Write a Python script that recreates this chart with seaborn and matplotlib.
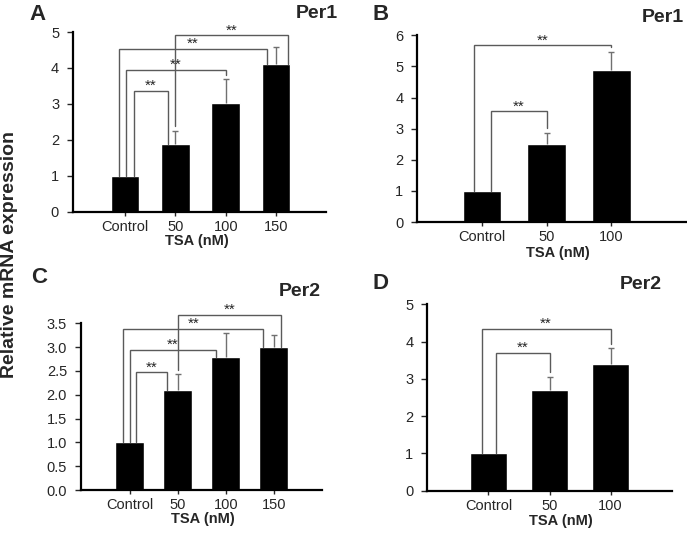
import numpy as np
import matplotlib
matplotlib.use("Agg")
import matplotlib.pyplot as plt
import seaborn as sns

sns.set_style("ticks")
plt.rcParams['font.family'] = ['Liberation Sans', 'DejaVu Sans']

# data
labels_4 = ["Control", "50", "100", "150"]
labels_3 = ["Control", "50", "100"]

per1_a = [1.0, 1.88, 3.02, 4.11]
per1_a_err = [0.0, 0.37, 0.67, 0.46]
per1_b = [1.0, 2.50, 4.87]
per1_b_err = [0.0, 0.37, 0.59]
per2_c = [1.0, 2.10, 2.80, 3.00]
per2_c_err = [0.0, 0.33, 0.50, 0.26]
per2_d = [1.0, 2.70, 3.40]
per2_d_err = [0.0, 0.36, 0.42]

# significance brackets: (left bar, right bar, height, left leg shift, right leg shift)
brackets_a = [(0, 1, 3.36, 0.185, -0.15), (0, 2, 3.95, 0.03, 0.0),
              (0, 3, 4.54, -0.11, -0.185), (1, 3, 4.91, 0.0, 0.245)]
brackets_b = [(0, 1, 3.56, 0.14, 0.0), (0, 2, 5.68, -0.12, 0.0)]
brackets_c = [(0, 1, 2.47, 0.13, -0.22), (0, 2, 2.94, 0.01, -0.2),
              (0, 3, 3.38, -0.13, -0.22), (1, 3, 3.68, 0.0, 0.14)]
brackets_d = [(0, 1, 3.70, 0.12, 0.0), (0, 2, 4.35, -0.11, 0.0)]

W, H = 687, 534
fig = plt.figure(figsize=(W / 100, H / 100), dpi=100)


def px_axes(left, right, y0, ytop):
    # pixel box -> figure fraction
    return fig.add_axes([left / W, 1 - y0 / H, (right - left) / W, (y0 - ytop) / H])


def panel(ax, labels, vals, errs, brackets, ymax, yticks, xlim, width, xlab, fmt="{:g}"):
    sns.barplot(x=labels, y=vals, color="black", saturation=1, width=width,
                errorbar=None, ax=ax)
    x = np.arange(len(vals))
    vals = np.array(vals)
    errs = np.array(errs)
    m = errs > 0
    eb = ax.errorbar(x[m], vals[m], yerr=[np.zeros(m.sum()), errs[m]], fmt="none",
                     ecolor="#707070", elinewidth=1, capsize=2.5, capthick=1, zorder=3)
    eb[1][0].set_visible(False)  # no cap at the bar top
    gap = ymax * 0.025
    for i, j, h, dl, dr in brackets:
        xl, xr = i + dl, j + dr
        bl = vals[i] + errs[i] + gap if dl == 0 and errs[i] > 0 else vals[i]
        br = vals[j] + errs[j] + gap if dr == 0 and errs[j] > 0 else vals[j]
        ax.plot([xl, xl, xr, xr], [bl, h, h, br], color="#5a5a5a", lw=1,
                clip_on=False, zorder=4, solid_joinstyle="miter")
        ax.annotate("**", ((xl + xr) / 2, h), xytext=(0, -1.5), textcoords="offset points",
                    ha="center", va="bottom", fontsize=11, annotation_clip=False)
    ax.set_ylim(0, ymax)
    ax.set_yticks(yticks)
    ax.set_yticklabels([fmt.format(t) for t in yticks])
    ax.set_xlim(*xlim)
    sns.despine(ax=ax)
    for s in ("left", "bottom"):
        ax.spines[s].set_linewidth(1.6)
        ax.spines[s].set_color("black")
    ax.tick_params(axis="y", length=4, width=1, pad=6, labelsize=10.5)
    ax.tick_params(axis="x", length=3, width=1, pad=3, labelsize=10.5)
    ax.set_ylabel("")
    ax.set_xlabel("TSA (nM)", fontsize=10.5, fontweight="bold")
    ax.xaxis.set_label_coords(*xlab)


ax_a = px_axes(73, 326, 211.7, 32)
panel(ax_a, labels_4, per1_a, per1_a_err, brackets_a, 5, range(0, 6),
      (-1.03, 3.99), 0.57, (0.49, -0.125))

ax_b = px_axes(417.3, 687, 222, 35.3)
panel(ax_b, labels_3, per1_b, per1_b_err, brackets_b, 6, range(0, 7),
      (-1.0, 3.17), 0.6, (0.52, -0.127))

ax_c = px_axes(81, 322, 490, 323.3)
panel(ax_c, labels_4, per2_c, per2_c_err, brackets_c, 3.5, np.arange(0, 3.51, 0.5),
      (-1.01, 4.0), 0.6, (0.506, -0.13), fmt="{:.1f}")

ax_d = px_axes(427.3, 671.7, 490.7, 304.3)
panel(ax_d, labels_3, per2_d, per2_d_err, brackets_d, 5, range(0, 6),
      (-1.0, 3.0), 0.6, (0.546, -0.127))

# panel letters and gene names
for txt, cx, cy, fs in [("A", 37.5, 14.5, 16), ("B", 380.5, 14.5, 16),
                        ("C", 39.5, 277.5, 16), ("D", 380.5, 283.5, 16),
                        ("Per1", 316.5, 13.5, 14), ("Per1", 663, 17.5, 14),
                        ("Per2", 300, 291.5, 14), ("Per2", 641, 284.5, 14)]:
    fig.text(cx / W, 1 - cy / H, txt, fontsize=fs, fontweight="bold",
             ha="center", va="center")

fig.text(10 / W, 1 - 254 / H, "Relative mRNA expression", rotation=90,
         fontsize=14, fontweight="bold", ha="center", va="center")

fig.savefig("out.png", dpi=100)
